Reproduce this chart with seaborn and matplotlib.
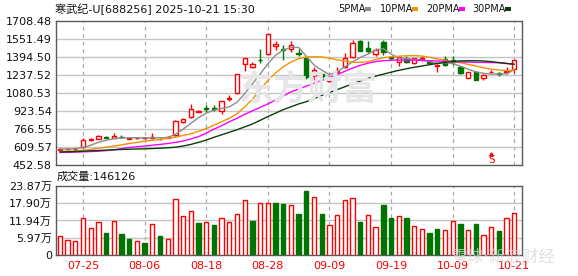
import numpy as np
import pandas as pd
import matplotlib
matplotlib.use("Agg")
import matplotlib.pyplot as plt
from matplotlib.patches import Rectangle
import seaborn as sns

# ---------------- data ----------------
dates = ["07-22", "07-23", "07-24", "07-25", "07-28", "07-29", "07-30", "07-31",
         "08-01", "08-04", "08-05", "08-06", "08-07", "08-08", "08-11", "08-12",
         "08-13", "08-14", "08-15", "08-18", "08-19", "08-20", "08-21", "08-22",
         "08-25", "08-26", "08-27", "08-28", "08-29", "09-01", "09-02", "09-03",
         "09-04", "09-05", "09-08", "09-09", "09-10", "09-11", "09-12", "09-15",
         "09-16", "09-17", "09-18", "09-19", "09-22", "09-23", "09-24", "09-25",
         "09-26", "09-29", "09-30", "10-09", "10-10", "10-13", "10-14", "10-15",
         "10-16", "10-17", "10-20", "10-21"]

open_ = [585, 588, 590, 607, 672, 681, 700, 692, 698, 682, 684, 686, 686, 678, 688,
         711, 827, 868, 918, 948, 948, 923, 1026, 1078, 1333, 1310, 1372, 1420, 1490, 1465,
         1462, 1432, 1385, 1228, 1246, 1182, 1265, 1310, 1397, 1530, 1470, 1425, 1522, 1395, 1348,
         1380, 1340, 1378, 1350, 1318, 1374, 1365, 1310, 1214, 1266, 1214, 1262, 1255, 1268, 1287]
high = [598, 597, 600, 690, 690, 710, 705, 734, 710, 692, 694, 696, 734, 686, 702,
        842, 860, 984, 930, 980, 975, 1015, 1065, 1250, 1390, 1350, 1461, 1600, 1535, 1495,
        1530, 1460, 1390, 1310, 1255, 1230, 1310, 1430, 1540, 1542, 1530, 1470, 1540, 1400, 1400,
        1405, 1390, 1405, 1358, 1330, 1400, 1405, 1312, 1262, 1268, 1242, 1280, 1262, 1310, 1370]
low = [580, 583, 585, 600, 665, 678, 688, 688, 688, 678, 680, 682, 682, 672, 685,
       708, 822, 862, 915, 918, 925, 900, 1010, 1075, 1270, 1295, 1340, 1415, 1455, 1368,
       1440, 1400, 1200, 1190, 1210, 1175, 1245, 1300, 1390, 1445, 1430, 1400, 1410, 1370, 1320,
       1340, 1335, 1360, 1335, 1260, 1320, 1325, 1250, 1208, 1192, 1195, 1255, 1232, 1250, 1255]
close = [592, 592, 595, 671, 678, 705, 692, 705, 694, 688, 690, 692, 694, 682, 698,
         839, 856, 944, 924, 942, 942, 1010, 1034, 1246, 1385, 1333, 1365, 1595, 1507, 1458,
         1495, 1425, 1222, 1281, 1217, 1222, 1272, 1385, 1515, 1449, 1445, 1455, 1435, 1385, 1397,
         1350, 1383, 1385, 1340, 1325, 1324, 1355, 1252, 1260, 1194, 1240, 1268, 1250, 1275, 1368]

# volume in 万 (10k lots)
volume = [6.6, 5.2, 4.8, 12.7, 9.2, 11.4, 7.6, 11.8, 7.3, 5.5, 4.8, 4.2, 10.7, 6.6, 5.5,
          19.4, 13.5, 15.2, 11.1, 11.4, 10.4, 12.8, 11.4, 14.2, 19.0, 11.8, 18.0, 18.0, 18.0, 17.6,
          17.3, 14.2, 22.1, 20.0, 14.2, 10.3, 13.7, 18.9, 19.6, 11.4, 13.7, 9.6, 17.3, 12.8, 13.4,
          12.8, 9.9, 8.9, 7.6, 9.0, 8.7, 11.8, 10.7, 8.7, 10.7, 6.9, 9.7, 8.3, 12.8, 14.6]
volume_up = [1, 1, 1, 1, 1, 1, 0, 1, 0, 0, 1, 0, 1, 0, 1,
             1, 1, 1, 0, 1, 0, 1, 1, 1, 1, 0, 1, 1, 0, 0,
             1, 0, 0, 1, 0, 1, 1, 1, 1, 0, 1, 1, 0, 0, 1,
             0, 1, 1, 0, 0, 1, 1, 0, 1, 0, 1, 1, 0, 1, 1]

ma5 = [592, 592, 595, 605, 625, 650, 668, 682, 688, 690, 690, 690, 690, 690, 692,
       720, 765, 815, 865, 905, 930, 945, 960, 1000, 1075, 1160, 1245, 1335, 1410, 1455,
       1478, 1478, 1400, 1325, 1280, 1240, 1265, 1310, 1352, 1390, 1420, 1455, 1468, 1420, 1385,
       1380, 1375, 1368, 1355, 1340, 1345, 1338, 1315, 1288, 1266, 1252, 1246, 1246, 1248, 1285]
ma10 = [570, 572, 575, 580, 588, 598, 608, 618, 628, 640, 650, 660, 668, 676, 685,
        695, 710, 725, 745, 770, 800, 830, 860, 900, 960, 1025, 1110, 1190, 1255, 1310,
        1350, 1380, 1395, 1397, 1395, 1385, 1370, 1360, 1348, 1348, 1353, 1372, 1388, 1396, 1402,
        1405, 1407, 1403, 1392, 1378, 1368, 1354, 1345, 1330, 1316, 1301, 1288, 1281, 1275, 1281]
ma20 = [562, 563, 565, 567, 570, 573, 578, 585, 595, 605, 612, 618, 625, 632, 640,
        650, 662, 680, 700, 730, 765, 795, 830, 860, 895, 925, 955, 985, 1020, 1055,
        1090, 1115, 1140, 1165, 1190, 1212, 1240, 1270, 1298, 1322, 1340, 1355, 1362, 1366, 1368,
        1367, 1366, 1365, 1362, 1360, 1357, 1354, 1352, 1350, 1348, 1347, 1346, 1344, 1338, 1332]
ma30 = [566, 568, 570, 573, 576, 579, 582, 585, 588, 590, 592, 594, 596, 599, 603,
        608, 618, 632, 650, 670, 694, 716, 738, 760, 785, 810, 842, 875, 905, 935,
        960, 985, 1005, 1032, 1058, 1085, 1110, 1135, 1160, 1185, 1208, 1228, 1245, 1262, 1278,
        1292, 1305, 1316, 1327, 1338, 1348, 1356, 1360, 1362, 1362, 1360, 1354, 1346, 1338, 1331]

price_ticks = [452.58, 609.57, 766.55, 923.54, 1080.53, 1237.52, 1394.50, 1551.49, 1708.48]
vol_ticks = [0, 5.97, 11.94, 17.90, 23.87]
vol_tick_labels = ["0", "5.97万", "11.94万", "17.90万", "23.87万"]
date_labels = ["07-25", "08-06", "08-18", "08-28", "09-09", "09-19", "10-09", "10-21"]
ma_names = ["5PMA", "10PMA", "20PMA", "30PMA"]
title_text = "寒武纪-U[688256] 2025-10-21 15:30"
vol_title = "成交量:146126"
signal_date = "10-16"

# ---------------- style ----------------
sns.set_theme(style="white")
plt.rcParams["font.family"] = ["DejaVu Sans", "Noto Sans CJK SC"]
plt.rcParams["axes.unicode_minus"] = False

RED = "#FF0000"
GREEN = "#007400"
MA_COLORS = ["#8C8C8C", "#F39200", "#FF00FF", "#0A3D0A"]
GRID = "#C4C4C4"
VGRID = "#A8A8A8"
SPINE = "#5A5A5A"
TXT = "#111111"

W, H = 578, 276
fig = plt.figure(figsize=(W / 100, H / 100), dpi=100)
fig.patch.set_facecolor("white")
ax = fig.add_axes([56 / W, (H - 165) / H, 466 / W, 144 / H])
axv = fig.add_axes([56 / W, (H - 255) / H, 466 / W, 69 / H])

df = pd.DataFrame({"date": dates, "open": open_, "high": high, "low": low,
                   "close": close, "volume": volume, "vup": volume_up,
                   "ma5": ma5, "ma10": ma10, "ma20": ma20, "ma30": ma30})
df["i"] = np.arange(len(df))

# ---------------- watermarks (behind everything) ----------------
fig.text(308 / W, 1 - 90 / H, "东方财富", fontsize=25, color="#E6E6E8",
         ha="center", va="center", fontweight="bold", zorder=0)
fig.text(503 / W, 1 - 256 / H, "雪球·新浪财经", fontsize=12, color="#D6D6D6",
         ha="center", va="center", alpha=0.75, zorder=0)
ax.set_facecolor("none")
axv.set_facecolor("none")

# ---------------- candles ----------------
o = df["open"].to_numpy(float)
c = df["close"].to_numpy(float)
hi = df["high"].to_numpy(float)
lo = df["low"].to_numpy(float)
x = df["i"].to_numpy()
up = c >= o
b_lo = np.minimum(o, c)
b_hi = np.maximum(o, c)
b_h = np.maximum(b_hi - b_lo, 4.0)
bw = 0.56

for mask, fc, ec in [(up, "white", RED), (~up, GREEN, GREEN)]:
    ax.vlines(x[mask], b_hi[mask], hi[mask], color=ec, lw=1, zorder=2)
    ax.vlines(x[mask], lo[mask], b_lo[mask], color=ec, lw=1, zorder=2)
    ax.bar(x[mask], b_h[mask], bottom=b_lo[mask], width=bw, facecolor=fc,
           edgecolor=ec, linewidth=1, zorder=3)

# ---------------- moving averages ----------------
for col, colr in zip(["ma5", "ma10", "ma20", "ma30"], MA_COLORS):
    sns.lineplot(data=df, x="i", y=col, ax=ax, color=colr, linewidth=1,
                 legend=False, zorder=4)

# ---------------- volume ----------------
vup = df["vup"].to_numpy() == 1
v = df["volume"].to_numpy(float)
axv.bar(x[vup], v[vup], width=bw, facecolor="white", edgecolor=RED, linewidth=1, zorder=3)
axv.bar(x[~vup], v[~vup], width=bw, facecolor=GREEN, edgecolor=GREEN, linewidth=1, zorder=3)

# ---------------- axes styling ----------------
date_pos = [dates.index(d) for d in date_labels]
for a in (ax, axv):
    a.set_xlim(-0.5, 60.0)
    a.set_xlabel("")
    a.set_ylabel("")
    for s in a.spines.values():
        s.set_color(SPINE)
        s.set_linewidth(1)
    a.tick_params(axis="both", length=0, labelsize=8, colors=TXT, pad=3)
    a.set_xticks(date_pos)
    a.grid(False)
    for p in date_pos:
        a.axvline(p, color=VGRID, lw=0.9, ls=(0, (3, 3)), zorder=1)

ax.set_ylim(price_ticks[0], price_ticks[-1])
ax.set_yticks(price_ticks)
ax.set_yticklabels([f"{t:.2f}" for t in price_ticks])
ax.set_xticklabels([])
for t in price_ticks[1:-1]:
    ax.axhline(t, color=GRID, lw=1, zorder=1)

axv.set_ylim(0, vol_ticks[-1])
axv.set_yticks(vol_ticks)
axv.set_yticklabels(vol_tick_labels)
for t in vol_ticks[1:-1]:
    axv.axhline(t, color=GRID, lw=1, zorder=1)
axv.set_xticklabels(date_labels)
axv.tick_params(axis="x", colors=RED, pad=4)

# ---------------- signal marker ----------------
si = dates.index(signal_date)
ax.annotate("S", xy=(si, 0.0), xycoords=("data", "axes fraction"),
            xytext=(0, 0), textcoords="offset points", ha="center", va="bottom",
            color=RED, fontsize=7.5)
ax.plot([si], [0.075], transform=ax.get_xaxis_transform(), marker="^",
        color=RED, markersize=2.5, zorder=5, clip_on=False)

# ---------------- header texts ----------------
fig.text(55 / W, 1 - 9 / H, title_text, fontsize=8, color=TXT, ha="left", va="center")
fig.text(57 / W, 1 - 177 / H, vol_title, fontsize=8, color=TXT, ha="left", va="center")

leg_text_x = [338, 380, 426, 472]
leg_rect_x = [365, 412, 459, 505]
for name, tx, rx, colr in zip(ma_names, leg_text_x, leg_rect_x, MA_COLORS):
    fig.text(tx / W, 1 - 9 / H, name, fontsize=7, color=TXT, ha="left", va="center")
    fig.patches.append(Rectangle((rx / W, 1 - 11 / H), 6 / W, 4 / H,
                                 transform=fig.transFigure, facecolor=colr,
                                 edgecolor="none"))

fig.savefig("out.png", dpi=100)
